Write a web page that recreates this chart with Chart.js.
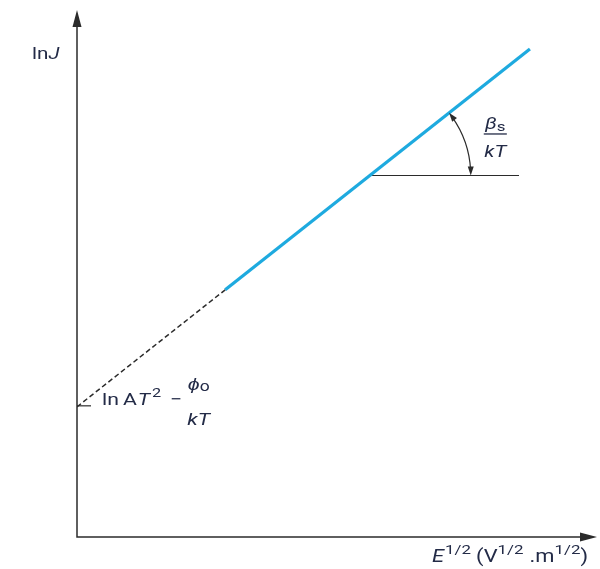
<!DOCTYPE html>
<html>
<head>
<meta charset="utf-8">
<script src="https://cdn.jsdelivr.net/npm/chart.js@4.4.0/dist/chart.umd.min.js"></script>
<style>
  html, body { margin: 0; padding: 0; background: #fff; }
  #wrap { width: 600px; height: 569px; }
</style>
</head>
<body>
<div id="wrap"><canvas id="grafico"></canvas></div>
<script>
// extrapolated part, down to the intercept on the lnJ axis
const dashedX = [0, 2.85];
const dashedY = [2.47, 4.69];
// measured range (solid line)
const measuredX = [2.85, 8.71];
const measuredY = [4.69, 9.26];
// horizontal reference for the slope angle
const refX = [5.63, 8.5];
const refY = [6.86, 6.86];
// axis ranges
const xRange = [0, 10];
const yRange = [0, 10];

const textColor = '#232b47';
const fontFamily = 'Roboto, "Liberation Sans", Arial, sans-serif';
const stretch = 1.25; // lettering is a bit wide

function pts(xs, ys) {
    return xs.map((x, i) => ({ x: x, y: ys[i] }));
}

function setFont(ctx, r) {
    ctx.font = (r.italic ? 'italic ' : '') + r.size + 'px ' + fontFamily;
}

// draws a list of text pieces one after another, returns the end x
function drawRuns(ctx, x, y, runs) {
    runs.forEach(r => {
        setFont(ctx, r);
        ctx.save();
        ctx.translate(x, y + (r.dy || 0));
        ctx.scale(stretch, 1);
        ctx.fillText(r.text, 0, 0);
        ctx.restore();
        x += ctx.measureText(r.text).width * stretch + (r.gap || 0);
    });
    return x;
}

function runsWidth(ctx, runs) {
    let w = 0;
    runs.forEach(r => {
        setFont(ctx, r);
        w += ctx.measureText(r.text).width * stretch + (r.gap || 0);
    });
    return w;
}

function arrowHead(ctx, tx, ty, dx, dy, len, half) {
    const n = Math.hypot(dx, dy);
    dx /= n; dy /= n;
    const bx = tx - dx * len, by = ty - dy * len;
    ctx.beginPath();
    ctx.moveTo(tx, ty);
    ctx.lineTo(bx - dy * half, by + dx * half);
    ctx.lineTo(bx + dy * half, by - dx * half);
    ctx.closePath();
    ctx.fill();
}

const desenho = {
    id: 'desenho',
    afterDraw(chart) {
        const ctx = chart.ctx;
        const a = chart.chartArea;
        const sx = chart.scales.x, sy = chart.scales.y;
        ctx.save();

        // axes with arrows
        ctx.strokeStyle = '#2b2b2b';
        ctx.fillStyle = '#2b2b2b';
        ctx.lineWidth = 1.5;
        ctx.beginPath();
        ctx.moveTo(a.left, a.top + 6);
        ctx.lineTo(a.left, a.bottom);
        ctx.lineTo(a.right - 6, a.bottom);
        ctx.stroke();
        arrowHead(ctx, a.left, a.top, 0, -1, 17, 4.5);
        arrowHead(ctx, a.right, a.bottom, 1, 0, 17, 4.5);

        // short leader at the intercept
        const iy = sy.getPixelForValue(dashedY[0]);
        ctx.lineWidth = 1.2;
        ctx.beginPath();
        ctx.moveTo(a.left, iy - 1);
        ctx.lineTo(a.left + 14, iy - 1);
        ctx.stroke();

        // angle arc between reference line and the measured line
        const cx = sx.getPixelForValue(refX[0]);
        const cy = sy.getPixelForValue(refY[0]);
        const p1x = sx.getPixelForValue(measuredX[0]), p1y = sy.getPixelForValue(measuredY[0]);
        const p2x = sx.getPixelForValue(measuredX[1]), p2y = sy.getPixelForValue(measuredY[1]);
        const ang = Math.atan2(p2y - p1y, p2x - p1x);
        const r = 101;
        ctx.lineWidth = 1.2;
        ctx.beginPath();
        ctx.arc(cx, cy, r, ang + 0.05, -0.05);
        ctx.stroke();
        arrowHead(ctx, cx + r, cy, 0, 1, 9, 3);
        arrowHead(ctx, cx + r * Math.cos(ang), cy + r * Math.sin(ang), Math.sin(ang), -Math.cos(ang), 9, 3);

        // texts
        ctx.fillStyle = textColor;
        ctx.strokeStyle = textColor;
        ctx.textBaseline = 'alphabetic';
        ctx.textAlign = 'left';

        // y axis title
        drawRuns(ctx, 32, 59, [
            { text: 'ln', size: 16.5, gap: 0 },
            { text: 'J', size: 16.5, italic: true }
        ]);

        // intercept label: ln AT^2 - phi0/kT
        let x = drawRuns(ctx, 102, iy - 2, [
            { text: 'ln', size: 17, gap: 4 },
            { text: 'A', size: 17, gap: 1 },
            { text: 'T', size: 17, italic: true, gap: 2 },
            { text: '2', size: 13, dy: -8, gap: 9 },
            { text: '\u2212', size: 17, gap: 5 }
        ]);
        let top = [{ text: '\u03d5', size: 17, italic: true }, { text: 'o', size: 14, dy: 1 }];
        let bot = [{ text: 'kT', size: 17, italic: true }];
        let w = Math.max(runsWidth(ctx, top), runsWidth(ctx, bot));
        drawRuns(ctx, x + (w - runsWidth(ctx, top)) / 2, iy - 17, top);
        drawRuns(ctx, x + (w - runsWidth(ctx, bot)) / 2, iy + 18, bot);

        // slope label: beta_s / kT
        x = cx + r + 13;
        top = [{ text: '\u03b2', size: 16.5, italic: true }, { text: 's', size: 13.5, dy: 2 }];
        bot = [{ text: 'kT', size: 16.5, italic: true }];
        w = Math.max(runsWidth(ctx, top), runsWidth(ctx, bot)) + 1;
        drawRuns(ctx, x + (w - runsWidth(ctx, top)) / 2, cy - 46, top);
        drawRuns(ctx, x + (w - runsWidth(ctx, bot)) / 2, cy - 18.5, bot);
        ctx.lineWidth = 1.3;
        ctx.beginPath();
        ctx.moveTo(x, cy - 41.5);
        ctx.lineTo(x + w, cy - 41.5);
        ctx.stroke();

        // x axis title
        drawRuns(ctx, 432, a.bottom + 25, [
            { text: 'E', size: 17.5, italic: true, gap: 1 },
            { text: '1/2', size: 13.5, dy: -8, gap: 5 },
            { text: '(V', size: 17.5, gap: 0 },
            { text: '1/2', size: 13.5, dy: -8, gap: 6 },
            { text: '.m', size: 17.5, gap: 0 },
            { text: '1/2', size: 13.5, dy: -8, gap: 0 },
            { text: ')', size: 17.5 }
        ]);

        ctx.restore();
    }
};

new Chart(document.getElementById('grafico'), {
    type: 'scatter',
    data: {
        datasets: [
            {
                data: pts(dashedX, dashedY),
                showLine: true,
                borderColor: '#2b2b2b',
                borderWidth: 1.5,
                borderDash: [5, 3],
                pointRadius: 0
            },
            {
                data: pts(measuredX, measuredY),
                showLine: true,
                borderColor: '#1eaadf',
                borderWidth: 3.2,
                pointRadius: 0
            },
            {
                data: pts(refX, refY),
                showLine: true,
                borderColor: '#2b2b2b',
                borderWidth: 1.2,
                pointRadius: 0
            }
        ]
    },
    options: {
        responsive: true,
        maintainAspectRatio: false,
        animation: false,
        layout: { padding: { left: 77, right: 3, top: 10, bottom: 32 } },
        plugins: { legend: { display: false }, tooltip: { enabled: false } },
        scales: {
            x: { type: 'linear', display: false, min: xRange[0], max: xRange[1] },
            y: { type: 'linear', display: false, min: yRange[0], max: yRange[1] }
        }
    },
    plugins: [desenho]
});
</script>
</body>
</html>
